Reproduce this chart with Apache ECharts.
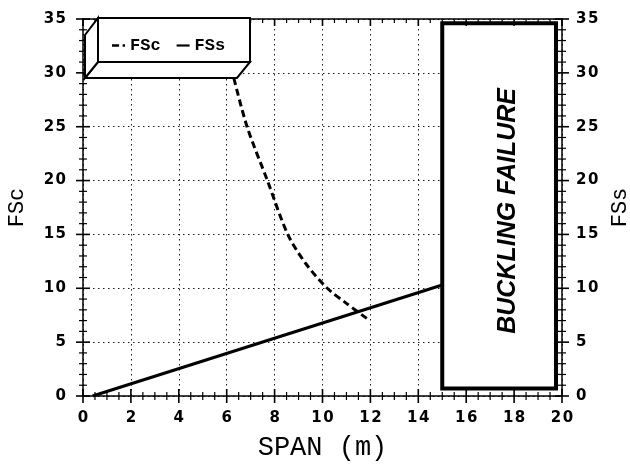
<!DOCTYPE html>
<html>
<head>
<meta charset="utf-8">
<script src="https://cdn.jsdelivr.net/npm/echarts@6/dist/echarts.min.js"></script>
<style>
html, body { margin: 0; background: #fff; }
#container { width: 630px; height: 468px; }
</style>
</head>
<body>
<div id="container"></div>
<script>
// FSc curve (dashed)
var spanFSc = [6.3, 6.85, 7.7, 8.55, 9.3, 10.2, 11.0, 11.85];
var valueFSc = [29.5, 25, 20, 15, 12.3, 10, 8.6, 7.2];
// FSs line (solid)
var spanFSs = [0.4, 15];
var valueFSs = [0, 10.3];
// buckling failure region
var bucklingSpan = [15, 19.75];
var bucklingValue = [0.7, 34.6];
// axis ranges: min, max, interval
var spanRange = [0, 20, 2];
var fsRange = [0, 35, 5];

var myChart = echarts.init(document.getElementById('container'));

function pairs(xs, ys) {
    return xs.map(function (x, i) { return [x, ys[i]]; });
}

// tick labels are spaced out like the old plot font
function spaced(v) {
    return String(v).split('').join('\u200A');
}

var black = '#000';
var tickFont = { color: black, fontFamily: 'DejaVu Sans', fontWeight: 'bold', fontSize: 15 };
var nameFont = { color: black, fontFamily: 'Liberation Mono', fontSize: 22 };

// crossing ticks as a custom series of small filled rects
// (stroked ticks kept vanishing next to the dotted grid)
// item: [value, 0 = x / 1 = y, 1 = major]
var tickData = [];
for (var v = spanRange[0]; v <= spanRange[1]; v += 0.5) {
    tickData.push([v, 0, v % spanRange[2] === 0 ? 1 : 0]);
}
for (var w = fsRange[0]; w <= fsRange[1]; w += 1) {
    tickData.push([w, 1, w % fsRange[2] === 0 ? 1 : 0]);
}

function renderTicks(params, api) {
    var v = api.value(0), isY = api.value(1) === 1, major = api.value(2) === 1;
    var len = major ? 7 : 4;
    var th = major ? 1.6 : 1.2;
    var boxes = [];
    if (!isY) {
        var b = api.coord([v, fsRange[0]]);
        var t = api.coord([v, fsRange[1]]);
        boxes.push({ x: b[0] - th / 2, y: b[1] - len, width: th, height: 2 * len });
        boxes.push({ x: t[0] - th / 2, y: t[1], width: th, height: len });
    } else {
        var l = api.coord([spanRange[0], v]);
        var r = api.coord([spanRange[1], v]);
        boxes.push({ x: l[0] - len, y: l[1] - th / 2, width: 2 * len, height: th });
        boxes.push({ x: r[0] - len, y: r[1] - th / 2, width: 2 * len, height: th });
    }
    return {
        type: 'group',
        children: boxes.map(function (s) {
            return { type: 'rect', shape: s, style: { fill: black } };
        })
    };
}

function axisOf(dim, pos, labels) {
    var r = dim === 'x' ? spanRange : fsRange;
    return {
        type: 'value', position: pos,
        min: r[0], max: r[1], interval: r[2],
        axisLine: { show: true, onZero: false, lineStyle: { color: black, width: 1.5 } },
        axisTick: { show: false },
        minorTick: { show: false },
        axisLabel: Object.assign({ show: labels, margin: dim === 'x' ? 15 : (pos === 'left' ? 17 : 14), formatter: spaced }, tickFont),
        splitLine: { show: labels && pos !== 'right', lineStyle: { color: '#1a1a1a', width: 1, type: [1.5, 3.5] } }
    };
}

var xBottom = axisOf('x', 'bottom', true);
xBottom.name = 'SPAN (m)';
xBottom.nameLocation = 'middle';
xBottom.nameGap = 38;
xBottom.nameTextStyle = { color: black, fontFamily: 'Liberation Mono', fontSize: 27 };

var yLeft = axisOf('y', 'left', true);
yLeft.name = 'FSc';
yLeft.nameLocation = 'middle';
yLeft.nameGap = 55;
yLeft.nameTextStyle = nameFont;

var yRight = axisOf('y', 'right', true);
yRight.name = 'FSs';
yRight.nameLocation = 'middle';
yRight.nameGap = 45;
yRight.nameRotate = 90;
yRight.nameTextStyle = nameFont;

var option = {
    backgroundColor: '#fff',
    animation: false,
    grid: { left: 83, right: 68, top: 19, bottom: 72, containLabel: false, outerBoundsMode: 'none' },
    xAxis: [xBottom, axisOf('x', 'top', false)],
    yAxis: [yLeft, yRight],
    legend: {
        left: 107, top: 32, z: 20,
        itemWidth: 13, itemHeight: 3, itemGap: 16,
        textStyle: { color: black, fontFamily: 'Liberation Mono', fontWeight: 'bold', fontSize: 17 },
        data: [
            { name: 'FSc', icon: 'path://M0,0h6v2h-6z M9,0h2v2h-2z' },
            { name: 'FSs', icon: 'path://M0,0h12v2h-12z' }
        ]
    },
    graphic: [
        // 3D box behind the legend
        { type: 'polygon', z: 10, shape: { points: [[98, 62], [250, 62], [237, 78], [85, 78]] },
          style: { fill: '#fff', stroke: black, lineWidth: 2 } },
        { type: 'polygon', z: 10, shape: { points: [[85, 35], [98, 18], [98, 62], [85, 78]] },
          style: { fill: '#fff', stroke: black, lineWidth: 2 } },
        { type: 'rect', z: 10, shape: { x: 98, y: 18, width: 152, height: 44 },
          style: { fill: '#fff', stroke: black, lineWidth: 2 } }
    ],
    series: [
        {
            name: 'FSc', type: 'line', xAxisIndex: 0, yAxisIndex: 0,
            data: pairs(spanFSc, valueFSc),
            smooth: 0.3, symbol: 'none',
            lineStyle: { color: black, width: 3, type: [7, 4] },
            itemStyle: { color: black }
        },
        {
            name: 'FSs', type: 'line', xAxisIndex: 0, yAxisIndex: 1,
            data: pairs(spanFSs, valueFSs),
            symbol: 'none',
            lineStyle: { color: black, width: 3 },
            itemStyle: { color: black },
            markArea: {
                silent: true,
                itemStyle: { color: '#fff', borderColor: black, borderWidth: 4 },
                label: {
                    show: true, position: 'inside', rotate: 90, offset: [-5, 9],
                    formatter: 'BUCKLING FAILURE',
                    color: black, fontFamily: 'Liberation Sans', fontStyle: 'italic',
                    fontWeight: 'bold', fontSize: 25
                },
                data: [[
                    { coord: [bucklingSpan[0], bucklingValue[0]] },
                    { coord: [bucklingSpan[1], bucklingValue[1]] }
                ]]
            }
        },
        {
            name: 'ticks', type: 'custom', xAxisIndex: 0, yAxisIndex: 0,
            data: tickData, renderItem: renderTicks,
            clip: false, silent: true, z: 3
        }
    ]
};

myChart.setOption(option);
</script>
</body>
</html>
